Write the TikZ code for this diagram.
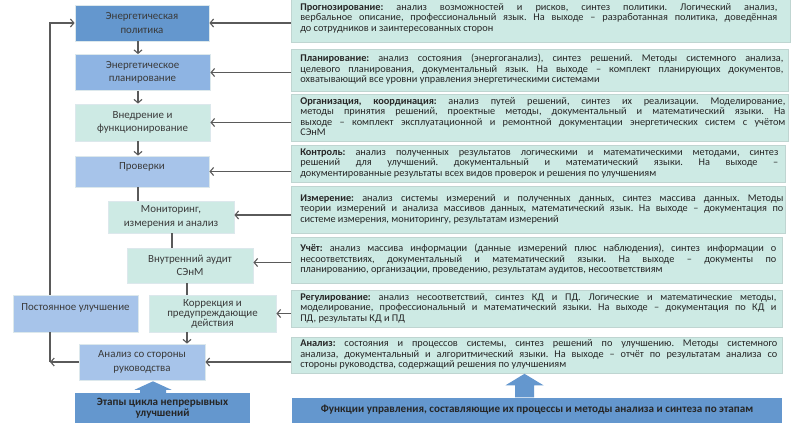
\documentclass[tikz,border=0pt]{standalone}
\usepackage{fontspec}
\setmainfont{Carlito}
\usetikzlibrary{arrows.meta,calc}
\frenchspacing
\definecolor{cpol}{HTML}{6497CE}
\definecolor{cplan}{HTML}{8EB4E3}
\definecolor{cblue}{HTML}{A7C4EA}
\definecolor{cteal}{HTML}{CDEAE4}
\definecolor{cedge}{HTML}{DCE8EC}
\definecolor{credge}{HTML}{BFD5D1}
\definecolor{cline}{HTML}{5A5A5A}
\definecolor{ctext}{HTML}{3A3A3A}
\definecolor{rtextc}{HTML}{262626}
\newcommand\jl[1]{\hbox to \linewidth{\strut#1}}
\newcommand\lastl[1]{\hbox{\strut#1}}
\newcommand\rtext[4]{\hspace*{9pt}\parbox[c][#1pt][c]{#2pt}{#4}\hspace*{#3pt}}
\begin{document}
\begin{tikzpicture}[x=1pt,y=-1pt,
  lbox/.style={rectangle, inner sep=1pt, align=center, text=ctext, draw=cedge, line width=0.8pt, font=\fontsize{10.9}{13.6}\selectfont},
  rbox/.style={rectangle, inner sep=0pt, fill=cteal, draw=credge, line width=0.6pt, anchor=north west, text=rtextc, font=\fontsize{10.3}{10.5}\selectfont},
  bbox/.style={rectangle, inner sep=1pt, align=center, fill=cpol, text=black!85, font=\bfseries\fontsize{11.1}{10.8}\selectfont},
  ln/.style={draw=cline, line width=1.1pt},
  arr/.style={ln, -{Straight Barb[length=3.5pt,width=8pt,line width=1.1pt]}}]
\useasboundingbox (0,0) rectangle (800,436);
\fill[white] (0,0) rectangle (800,436);
% left column
\node[lbox, fill=cpol, minimum width=134pt, minimum height=36pt] (pol) at (142,23) {Энергетическая\\политика};
\node[lbox, fill=cplan, minimum width=135pt, minimum height=36pt] (plan) at (142.5,72.5) {Энергетическое\\планирование};
\node[lbox, fill=cteal, minimum width=135pt, minimum height=37pt] (vned) at (142.5,122.5) {Внедрение и\\функционирование};
\node[lbox, fill=cblue, minimum width=134pt, minimum height=31pt] (prov) at (142,171.5) {\raisebox{4.5pt}[\height][\depth]{Проверки}};
\node[lbox, fill=cteal, minimum width=126pt, minimum height=32pt] (mon) at (171,217) {Мониторинг,\\измерения и анализ};
\node[lbox, fill=cteal, minimum width=126pt, minimum height=35pt] (aud) at (190,265.5) {Внутренний аудит\\СЭнМ};
\node[lbox, fill=cblue, minimum width=125pt, minimum height=37pt] (post) at (75.5,313.5) {\raisebox{6pt}[\height][\depth]{Постоянное улучшение}};
\node[lbox, fill=cteal, minimum width=127pt, minimum height=37pt, font=\fontsize{10.9}{10}\selectfont] (korr) at (212.5,313.5) {Коррекция и\\предупреждающие\\действия};
\node[lbox, fill=cblue, minimum width=126pt, minimum height=36pt] (anal) at (142,362) {Анализ со стороны\\руководства};
\node[bbox, minimum width=175pt, minimum height=30pt] (etap) at (162.5,408) {Этапы цикла непрерывных\\улучшений};
% right column
\node[rbox] (r1) at (291,-5) {\rtext{47}{477}{13}{%
\jl{\textbf{Прогнозирование:} анализ возможностей и рисков, синтез политики. Логический анализ,}%
\jl{вербальное описание, профессиональный язык. На выходе – разработанная политика, доведённая}%
\lastl{до сотрудников и заинтересованных сторон}}};
\node[rbox] (r2) at (291,49) {\rtext{42}{483}{5}{%
\jl{\textbf{Планирование:} анализ состояния (энергоганализ), синтез решений. Методы системного анализа,}%
\jl{целевого планирования, документальный язык. На выходе – комплект планирующих документов,}%
\lastl{охватывающий все уровни управления энергетическими системами}}};
\node[rbox] (r3) at (291,94) {\rtext{47}{485}{3}{%
\jl{\textbf{Организация, координация:} анализ путей решений, синтез их реализации. Моделирование,}%
\jl{методы принятия решений, проектные методы, документальный и математический языки. На}%
\jl{выходе – комплект эксплуатационной и ремонтной документации энергетических систем с учётом}%
\lastl{СЭнМ}}};
\node[rbox] (r4) at (291,145) {\rtext{37}{478}{7}{%
\jl{\textbf{Контроль:} анализ полученных результатов логическими и математическими методами, синтез}%
\jl{решений для улучшений. документальный и математический языки. На выходе –}%
\lastl{документированные результаты всех видов проверок и решения по улучшениям}}};
\node[rbox] (r5) at (291,186) {\rtext{47}{483}{2}{%
\jl{\textbf{Измерение:} анализ системы измерений и полученных данных, синтез массива данных. Методы}%
\jl{теории измерений и анализа массивов данных, математический язык. На выходе – документация по}%
\lastl{системе измерения, мониторингу, результатам измерений}}};
\node[rbox] (r6) at (291,237) {\rtext{46}{476}{6}{%
\jl{\textbf{Учёт:} анализ массива информации (данные измерений плюс наблюдения), синтез информации о}%
\jl{несоответствиях, документальный и математический языки. На выходе – документы по}%
\lastl{планированию, организации, проведению, результатам аудитов, несоответствиям}}};
\node[rbox] (r7) at (291,290) {\rtext{37}{476}{6}{%
\jl{\textbf{Регулирование:} анализ несоответствий, синтез КД и ПД. Логические и математические методы,}%
\jl{моделирование, профессиональный и математический языки. На выходе – документация по КД и}%
\lastl{ПД, результаты КД и ПД}}};
\node[rbox] (r8) at (291,337) {\rtext{36}{477}{5}{%
\jl{\textbf{Анализ:} состояния и процессов системы, синтез решений по улучшению. Методы системного}%
\jl{анализа, документальный и алгоритмический языки. На выходе – отчёт по результатам анализа со}%
\lastl{стороны руководства, содержащий решения по улучшениям}}};
\node[bbox, minimum width=490pt, minimum height=25pt] (fb) at (537,410) {Функции управления, составляющие их процессы и методы анализа и синтеза по этапам};
% vertical flow
\coordinate (vx) at (138,0);
\coordinate (vx2) at (172,0);
\coordinate (vx3) at (187,0);
\coordinate (lx) at (50,0);
\draw[arr] (pol.south -| vx) -- (plan.north -| vx);
\draw[arr] (plan.south -| vx) -- (vned.north -| vx);
\draw[arr] (vned.south -| vx) -- (prov.north -| vx);
\draw[ln] (prov.south -| vx) -- (mon.north -| vx);
\draw[ln] (mon.south -| vx2) -- (aud.north -| vx2);
\draw[ln] (aud.south -| vx3) -- (korr.north -| vx3);
\draw[arr] (korr.south -| vx3) -- (anal.north -| vx3);
% feedback loop
\draw[arr] (anal.west) -- (anal.west -| lx);
\draw[ln] (anal.west -| lx) -- (post.south -| lx);
\draw[arr] (post.north -| lx) -- (pol.west -| lx) -- (pol.west);
% right connectors
\draw[arr] (r1.west |- pol.east) -- (pol.east);
\draw[arr] (r2.west |- plan.east) -- (plan.east);
\draw[arr] (r3.west |- vned.east) -- (vned.east);
\draw[arr] (r4.west |- prov.east) -- (prov.east);
\draw[arr] ([yshift=2pt]r5.west |- mon.east) -- ([yshift=2pt]mon.east);
\draw[arr] ([yshift=3pt]r6.west |- aud.east) -- ([yshift=3pt]aud.east);
\draw[arr] (r7.west |- korr.east) -- (korr.east);
\draw[arr] (r8.west |- anal.east) -- (anal.east);
% block arrows
\coordinate (ba) at ([xshift=-9.5pt]etap.north);
\fill[cpol] ($(ba)+(-13,0)$) -- ($(ba)+(-13,-3)$) -- ($(ba)+(-18.5,-3)$) -- ($(ba)+(0,-11.5)$) -- ($(ba)+(18.5,-3)$) -- ($(ba)+(13,-3)$) -- ($(ba)+(13,0)$) -- cycle;
\coordinate (bb) at ([xshift=-12.5pt]fb.north);
\fill[cpol] ($(bb)+(-9.5,0)$) -- ($(bb)+(-9.5,-12)$) -- ($(bb)+(-19,-12)$) -- ($(bb)+(0,-23.5)$) -- ($(bb)+(19,-12)$) -- ($(bb)+(9.5,-12)$) -- ($(bb)+(9.5,0)$) -- cycle;
\end{tikzpicture}
\end{document}
